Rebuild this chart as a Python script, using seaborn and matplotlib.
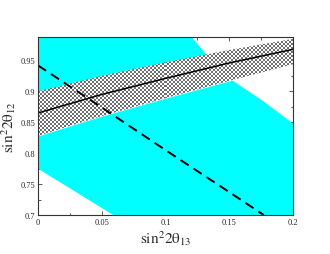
import numpy as np
import pandas as pd
import matplotlib
matplotlib.use("Agg")
import matplotlib.pyplot as plt
from matplotlib.colors import ListedColormap
from matplotlib.ticker import MultipleLocator
import seaborn as sns

# allowed (cyan) region boundary, clockwise from lower-left
cyan_x = [0.0, 0.0, 0.1198, 0.1297, 0.1532, 0.1757, 0.2, 0.2, 0.059]
cyan_y = [0.775, 0.99, 0.99, 0.965, 0.9166, 0.8855, 0.848, 0.7, 0.7]

# hatched band around the solid curve
band_x = [0.0, 0.05, 0.1, 0.15, 0.2]
band_lo = [0.828, 0.860, 0.889, 0.917, 0.944]
band_mid = [0.865, 0.895, 0.921, 0.946, 0.968]
band_hi = [0.900, 0.925, 0.947, 0.967, 0.985]

# dashed line
dash_x = [0.0, 0.05, 0.1, 0.15, 0.177]
dash_y = [0.942, 0.874, 0.805, 0.737, 0.700]

sns.set_style("ticks")
plt.rcParams["font.family"] = ["Liberation Serif", "DejaVu Serif"]
plt.rcParams["mathtext.fontset"] = "stix"

fig = plt.figure(figsize=(3.3, 2.55), dpi=100)
ax = fig.add_axes([0.115, 0.153, 0.773, 0.698])

xlim = (0, 0.2)
ylim = (0.7, 0.988)

ax.fill(cyan_x, cyan_y, color="#00ffff", lw=0, zorder=1)
band = ax.fill_between(band_x, band_lo, band_hi, facecolor="white", lw=0, zorder=2)

# pixel checker texture for the band (xmgrace-style pattern fill)
nx, ny = 255, 178
cy, cx = np.indices((ny, nx))
checker = ((cx // 2 + cy // 2) % 2).astype(float)
tex = ax.imshow(checker, cmap=ListedColormap(["white", "#6e6e6e"]),
                extent=(xlim[0], xlim[1], ylim[0], ylim[1]), origin="lower",
                interpolation="nearest", aspect="auto", zorder=2.5)
tex.set_clip_path(band.get_paths()[0], transform=ax.transData)

df_mid = pd.DataFrame({"x": band_x, "y": band_mid})
df_dash = pd.DataFrame({"x": dash_x, "y": dash_y})
sns.lineplot(data=df_mid, x="x", y="y", color="black", lw=1.1, ax=ax, zorder=3)
sns.lineplot(data=df_dash, x="x", y="y", color="black", lw=1.4, ax=ax, zorder=3)
ax.lines[-1].set_dashes([5, 3])

ax.set_xlim(*xlim)
ax.set_ylim(*ylim)
ax.xaxis.set_minor_locator(MultipleLocator(0.025))
ax.yaxis.set_minor_locator(MultipleLocator(0.025))
ax.set_xticks([0, 0.05, 0.1, 0.15, 0.2], ["0", "0.05", "0.1", "0.15", "0.2"])
ax.set_yticks([0.7, 0.75, 0.8, 0.85, 0.9, 0.95], ["0.7", "0.75", "0.8", "0.85", "0.9", "0.95"])
ax.tick_params(which="both", direction="in", top=True, right=True,
               labelsize=6, width=0.6, color="0.25", pad=2)
ax.tick_params(which="major", length=3)
ax.tick_params(which="minor", length=1.8)
for s in ax.spines.values():
    s.set_linewidth(0.8)
    s.set_color("0.2")
    s.set_zorder(5)

ax.set_xlabel(r"$\mathrm{sin^22\theta_{13}}$", fontsize=11, labelpad=2)
ax.set_ylabel(r"$\mathrm{sin^22\theta_{12}}$", fontsize=11, labelpad=2)

fig.savefig("out.png", dpi=100)
